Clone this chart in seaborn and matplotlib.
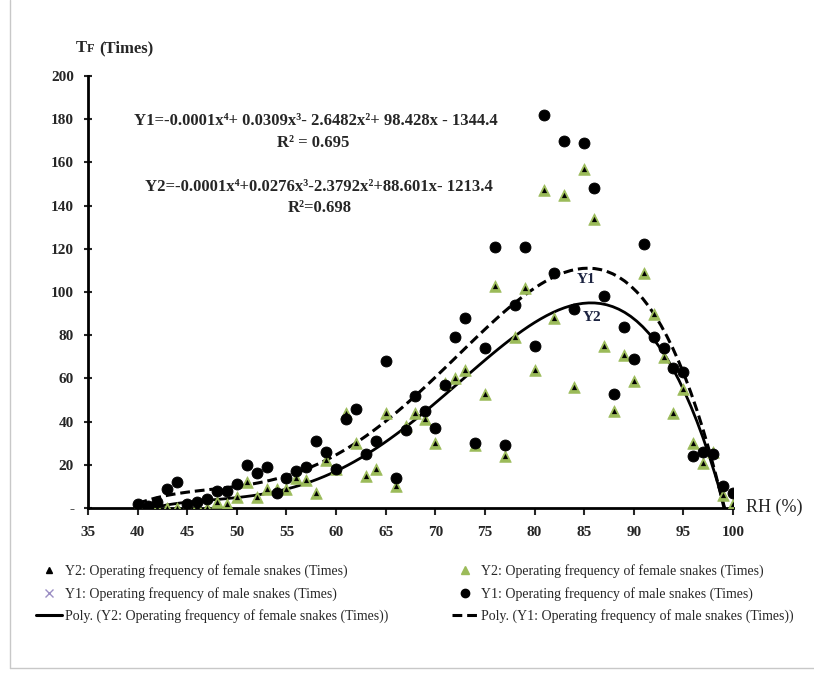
import numpy as np
import pandas as pd
import matplotlib
matplotlib.use('Agg')
import matplotlib.pyplot as plt
import seaborn as sns
from matplotlib.lines import Line2D

# relative humidity (%) and operating frequencies
rh = list(range(40, 101))
male = [2, 1, 3, 9, 12, 2, 3, 4, 8, 8,
        11, 20, 16, 19, 7, 14, 17, 19, 31, 26,
        18, 41, 46, 25, 31, 68, 14, 36, 52, 45,
        37, 57, 79, 88, 30, 74, 121, 29, 94, 121,
        75, 182, 109, 170, 92, 169, 148, 98, 53, 84,
        69, 122, 79, 74, 65, 63, 24, 26, 25, 10,
        7]
female = [1, 0, 0, 0, 0, 1, 1, 0, 3, 2,
          5, 12, 5, 9, 9, 9, 14, 13, 7, 22,
          18, 44, 30, 15, 18, 44, 10, 38, 44, 41,
          30, 58, 60, 64, 29, 53, 103, 24, 79, 102,
          64, 147, 88, 145, 56, 157, 134, 75, 45, 71,
          59, 109, 90, 70, 44, 55, 30, 21, 26, 6,
          2]

lbl_f = 'Y2: Operating frequency of female snakes (Times)'
lbl_m = 'Y1: Operating frequency of male snakes (Times)'

df = pd.DataFrame({'RH': rh, 'male': male, 'female': female})

sns.set_style('white')
plt.rcParams['font.family'] = ['Liberation Serif', 'DejaVu Serif']

fig = plt.figure(figsize=(8.14, 6.73), dpi=100)
ax = fig.add_axes([0.1081, 0.2452, 0.7924, 0.6419])

green = '#9BBB59'
# trend lines (4th order polynomial fits)
sns.regplot(data=df, x='RH', y='male', order=4, scatter=False, ci=None, ax=ax,
            line_kws=dict(color='black', lw=2.2, ls=(0, (3.2, 1.6)), zorder=2))
sns.regplot(data=df, x='RH', y='female', order=4, scatter=False, ci=None, ax=ax,
            line_kws=dict(color='black', lw=2.0, zorder=2))

# points
sns.scatterplot(data=df, x='RH', y='male', marker='x', color='#9C8FC4', s=30,
                linewidth=1, ax=ax, zorder=3)
sns.scatterplot(data=df, x='RH', y='female', marker='^', color=green, s=70,
                edgecolor=green, linewidth=0.5, ax=ax, zorder=4)
sns.scatterplot(data=df, x='RH', y='female', marker='^', color='black', s=14,
                linewidth=0, ax=ax, zorder=5)
sns.scatterplot(data=df, x='RH', y='male', marker='o', color='black', s=62,
                edgecolor='black', ax=ax, zorder=6)

ax.set_xlim(35, 100)
ax.set_ylim(0, 200)
ax.set_xticks(range(35, 101, 5))
ax.set_yticks(range(0, 201, 20))
ax.set_yticklabels(['-'] + [str(v) for v in range(20, 201, 20)])
ax.set_xlabel('')
ax.set_ylabel('')
for s in ['top', 'right']:
    ax.spines[s].set_visible(False)
for s in ['left', 'bottom']:
    ax.spines[s].set_color('black')
    ax.spines[s].set_linewidth(2)
ax.tick_params(axis='x', direction='out', length=5, width=1.5, pad=8,
               labelsize=11, bottom=True)
ax.tick_params(axis='y', direction='inout', length=6, width=1.5, pad=7,
               labelsize=11, left=True)
for t in ax.get_xticklabels() + ax.get_yticklabels():
    t.set_fontweight('bold')

# axis titles
fig.text(76 / 814, 1 - 52 / 673, 'T', fontsize=12, fontweight='bold', va='baseline')
fig.text(87 / 814, 1 - 52 / 673, 'F', fontsize=9, fontweight='bold', va='baseline')
fig.text(99 / 814, 1 - 52 / 673, '(Times)', fontsize=12, fontweight='bold', va='baseline')
fig.text(746 / 814, 1 - 507 / 673, 'RH (%)', fontsize=13, va='center')

# equations
eq = dict(fontsize=12, fontweight='bold', ha='center', va='center')
fig.text(316 / 814, 1 - 121 / 673, 'Y1=-0.0001x⁴+ 0.0309x³- 2.6482x²+ 98.428x - 1344.4', **eq)
fig.text(313 / 814, 1 - 143 / 673, 'R² = 0.695', **eq)
fig.text(319 / 814, 1 - 187 / 673, 'Y2=-0.0001x⁴+0.0276x³-2.3792x²+88.601x- 1213.4', **eq)
fig.text(320 / 814, 1 - 208 / 673, 'R²=0.698', **eq)

ax.text(85.2, 106, 'Y1', fontsize=11, fontweight='bold', color='#1c2340', ha='center', va='center')
ax.text(85.8, 88, 'Y2', fontsize=11, fontweight='bold', color='#1c2340', ha='center', va='center')

handles = [
    Line2D([], [], ls='none', marker='^', color='black', ms=5),
    Line2D([], [], ls='none', marker='x', color='#9C8FC4', ms=6),
    Line2D([], [], color='black', lw=2.2),
    Line2D([], [], ls='none', marker='^', color=green, mec=green, ms=6),
    Line2D([], [], ls='none', marker='o', color='black', ms=6),
    Line2D([], [], color='black', lw=2.2, ls=(0, (3.2, 1.6))),
]
labels = [lbl_f, lbl_m, 'Poly. (' + lbl_f + ')', lbl_f, lbl_m, 'Poly. (' + lbl_m + ')']
fig.legend(handles, labels, ncol=2, loc='upper left', bbox_to_anchor=(23 / 814, 1 - 552 / 673),
           frameon=False, fontsize=10, handlelength=1.9, handletextpad=0.2,
           labelspacing=0.6, columnspacing=4.6)

# chart area border (left and bottom)
fig.add_artist(Line2D([10 / 814, 10 / 814], [5 / 673, 1], color='#c8c8c8', lw=1))
fig.add_artist(Line2D([10 / 814, 1], [5 / 673, 5 / 673], color='#c8c8c8', lw=1))

fig.savefig('out.png', dpi=100)
